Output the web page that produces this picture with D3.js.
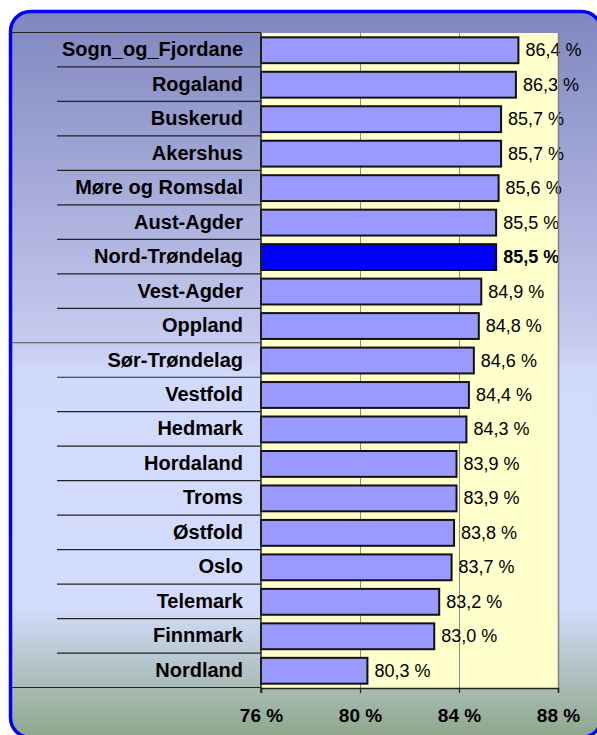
<!DOCTYPE html>
<html>
<head>
<meta charset="utf-8">
<script src="https://cdn.jsdelivr.net/npm/d3@7"></script>
<style>
  body { margin: 0; background: #ffffff; }
  svg { display: block; font-family: "Liberation Sans", Arial, sans-serif; }
</style>
</head>
<body>
<div id="chart"></div>
<script>
// chart values
const regions = ["Sogn_og_Fjordane", "Rogaland", "Buskerud", "Akershus", "Møre og Romsdal",
  "Aust-Agder", "Nord-Trøndelag", "Vest-Agder", "Oppland", "Sør-Trøndelag", "Vestfold",
  "Hedmark", "Hordaland", "Troms", "Østfold", "Oslo", "Telemark", "Finnmark", "Nordland"];
const values = [86.4, 86.3, 85.7, 85.7, 85.6, 85.5, 85.5, 84.9, 84.8, 84.6, 84.4,
  84.3, 83.9, 83.9, 83.8, 83.7, 83.2, 83.0, 80.3];
const highlight = "Nord-Trøndelag";
const xTicks = [76, 80, 84, 88];

const W = 597, H = 735;
const plot = { left: 261, right: 558, top: 33, bottom: 688 };

const data = regions.map((r, i) => ({ region: r, value: values[i] }));
const fmt = v => d3.format(".1f")(v).replace(".", ",") + " %";

const svg = d3.select("#chart").append("svg")
  .attr("width", W)
  .attr("height", H);

// background gradient
const defs = svg.append("defs");
const grad = defs.append("linearGradient")
  .attr("id", "bg").attr("x1", 0).attr("y1", 0).attr("x2", 0).attr("y2", 1);
grad.append("stop").attr("offset", "0%").attr("stop-color", "#8087c0");
grad.append("stop").attr("offset", "45%").attr("stop-color", "#c6caef");
grad.append("stop").attr("offset", "50%").attr("stop-color", "#d2dafb");
grad.append("stop").attr("offset", "82%").attr("stop-color", "#d3dcfc");
grad.append("stop").attr("offset", "100%").attr("stop-color", "#8ea78a");

svg.append("rect")
  .attr("x", 10.5).attr("y", 11.5)
  .attr("width", 591).attr("height", 726)
  .attr("rx", 20).attr("ry", 20)
  .attr("fill", "url(#bg)")
  .attr("stroke", "#0000ff")
  .attr("stroke-width", 3.5);

// scales
const x = d3.scaleLinear().domain([76, 88]).range([plot.left, plot.right]);
const y = d3.scaleBand().domain(regions).range([plot.top, plot.bottom])
  .paddingInner(0.25).paddingOuter(0.125);
const step = y.step();

// plot area
svg.append("rect")
  .attr("x", plot.left).attr("y", plot.top)
  .attr("width", plot.right - plot.left).attr("height", plot.bottom - plot.top)
  .attr("fill", "#ffffcc");

// grid lines
svg.append("g").selectAll("line")
  .data(xTicks.slice(1))
  .join("line")
  .attr("x1", d => x(d) + 0.5).attr("x2", d => x(d) + 0.5)
  .attr("y1", plot.top).attr("y2", plot.bottom)
  .attr("stroke", "#8c8c8c")
  .attr("stroke-width", 1);

// row separators in label column
const seps = d3.range(0, regions.length + 1);
svg.append("g").selectAll("line")
  .data(seps)
  .join("line")
  .attr("x1", i => (i === 0 || i === 9 || i === regions.length) ? 12 : 57)
  .attr("x2", plot.left)
  .attr("y1", i => plot.top + i * step - 0.5)
  .attr("y2", i => plot.top + i * step - 0.5)
  .attr("stroke", i => i === 9 ? "#555" : "#222")
  .attr("stroke-width", 1.2);

// bars
svg.append("g").selectAll("rect")
  .data(data)
  .join("rect")
  .attr("x", plot.left)
  .attr("y", d => y(d.region))
  .attr("width", d => x(d.value) - plot.left)
  .attr("height", y.bandwidth())
  .attr("fill", d => d.region === highlight ? "#0000ff" : "#9999ff")
  .attr("stroke", "#111")
  .attr("stroke-width", 2);

// value labels
svg.append("g").selectAll("text")
  .data(data)
  .join("text")
  .attr("x", d => x(d.value) + 7)
  .attr("y", d => y(d.region) + y.bandwidth() / 2 + 6)
  .attr("font-size", 18)
  .attr("font-weight", d => d.region === highlight ? "bold" : "normal")
  .attr("fill", "#000")
  .text(d => fmt(d.value));

// category labels
svg.append("g").selectAll("text")
  .data(data)
  .join("text")
  .attr("x", 243)
  .attr("y", d => y(d.region) + y.bandwidth() / 2 + 6)
  .attr("text-anchor", "end")
  .attr("font-size", 20)
  .attr("font-weight", "bold")
  .attr("fill", "#000")
  .text(d => d.region);

// plot area right edge
svg.append("line")
  .attr("x1", plot.right + 0.5).attr("x2", plot.right + 0.5)
  .attr("y1", plot.top).attr("y2", plot.bottom)
  .attr("stroke", "#808080").attr("stroke-width", 1.5);

// category axis line
svg.append("line")
  .attr("x1", plot.left).attr("x2", plot.left)
  .attr("y1", plot.top).attr("y2", plot.bottom + 5)
  .attr("stroke", "#222").attr("stroke-width", 1.5);

// value axis
const xAxis = d3.axisBottom(x)
  .tickValues(xTicks)
  .tickSize(5)
  .tickFormat(d => d + " %");

const ax = svg.append("g")
  .attr("transform", `translate(0,${plot.bottom})`)
  .call(xAxis);
ax.select(".domain").attr("stroke", "#222").attr("stroke-width", 1.5);
ax.selectAll(".tick line").attr("stroke", "#222").attr("stroke-width", 1.2);
ax.selectAll(".tick text")
  .attr("y", 34).attr("dy", 0)
  .attr("font-size", 19)
  .attr("font-weight", "bold")
  .attr("font-family", "Liberation Sans, Arial, sans-serif")
  .attr("fill", "#000");
</script>
</body>
</html>
